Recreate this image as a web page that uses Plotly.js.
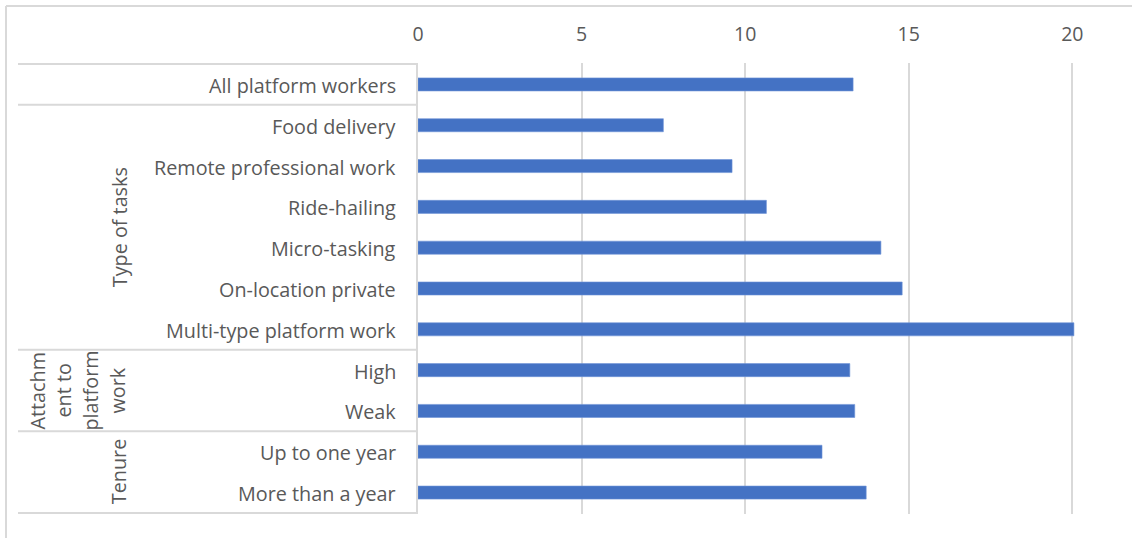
<!DOCTYPE html>
<html>
<head>
<meta charset="utf-8">
<script src="https://cdn.plot.ly/plotly-3.0.1.min.js"></script>
<style>
html,body{margin:0;padding:0;background:#fff;}
#chart{width:1132px;height:538px;}
</style>
</head>
<body>
<div id="chart"></div>
<script>
// Data
const categories = [
  "All platform workers",
  "Food delivery",
  "Remote professional work",
  "Ride-hailing",
  "Micro-tasking",
  "On-location private",
  "Multi-type platform work",
  "High",
  "Weak",
  "Up to one year",
  "More than a year"
];
const values = [13.3, 7.5, 9.6, 10.65, 14.15, 14.8, 20.05, 13.2, 13.35, 12.35, 13.7];
const xTicks = [0, 5, 10, 15, 20];

// Group labels: [text lines, first index, last index]
const groupTypeOfTasks = {lines: ["Type of tasks"], from: 1, to: 6};
const groupAttachment = {lines: ["Attachm", "ent to", "platform", "work"], from: 7, to: 8};
const groupTenure = {lines: ["Tenure"], from: 9, to: 10};
const separators = [-0.5, 0.5, 6.5, 8.5, 10.5];

const textColor = "#595959";
const lineColor = "#d9d9d9";
const fontFamily = "Open Sans, Noto Sans, sans-serif";
const fontSize = 19.8;

// Layout geometry (pixels)
const W = 1132, H = 538;
const mL = 418, mR = 27, mT = 63, mB = 24;
const plotW = W - mL - mR, plotH = H - mT - mB;
const px2paperX = (px) => (px - mL) / plotW;
const px2paperY = (py) => 1 - (py - mT) / plotH;

const annotations = [];
categories.forEach((c, i) => {
  annotations.push({
    text: c, xref: "paper", yref: "y", x: 0, y: i,
    xanchor: "right", yanchor: "middle", xshift: -20, yshift: -1, showarrow: false,
    font: {family: fontFamily, size: fontSize, color: textColor}
  });
});
function addGroup(g, centersPx) {
  g.lines.forEach((t, k) => {
    annotations.push({
      text: t, xref: "paper", yref: "y",
      x: px2paperX(centersPx[k]), y: (g.from + g.to) / 2,
      xanchor: "center", yanchor: "middle", textangle: -90, showarrow: false,
      font: {family: fontFamily, size: fontSize, color: textColor}
    });
  });
}
addGroup(groupTypeOfTasks, [119]);
addGroup(groupAttachment, [38, 64, 91, 118]);
addGroup(groupTenure, [118]);

const shapes = separators.map(s => ({
  type: "line", xref: "paper", yref: "y",
  x0: px2paperX(18), x1: 0, y0: s, y1: s,
  line: {color: lineColor, width: 2}
}));
// outer chart border (top and left)
shapes.push({type: "line", xref: "paper", yref: "paper",
  x0: px2paperX(6), x1: px2paperX(1132), y0: px2paperY(6), y1: px2paperY(6),
  line: {color: lineColor, width: 2}});
shapes.push({type: "line", xref: "paper", yref: "paper",
  x0: px2paperX(6), x1: px2paperX(6), y0: px2paperY(6), y1: px2paperY(538),
  line: {color: lineColor, width: 2}});

const trace = {
  type: "bar", orientation: "h",
  y: categories, x: values,
  width: 0.32,
  marker: {color: "#4472C4", line: {color: "#6f93d6", width: 0.6}},
  hoverinfo: "x+y"
};

const layout = {
  width: W, height: H,
  margin: {l: mL, r: mR, t: mT, b: mB, pad: 0},
  paper_bgcolor: "#fff", plot_bgcolor: "#fff",
  showlegend: false,
  xaxis: {
    side: "top", range: [0, 21], tickvals: xTicks, ticktext: xTicks.map(String),
    showgrid: true, gridcolor: lineColor, gridwidth: 2, zeroline: false,
    showline: false, ticks: "outside", ticklen: 13, tickcolor: "rgba(0,0,0,0)",
    tickfont: {family: fontFamily, size: 19.5, color: textColor},
    fixedrange: true
  },
  yaxis: {
    type: "category", autorange: "reversed", showticklabels: false,
    showgrid: false, zeroline: false, showline: true, linecolor: lineColor, linewidth: 2,
    ticks: "", fixedrange: true
  },
  annotations: annotations,
  shapes: shapes,
  font: {family: fontFamily, color: textColor}
};

Plotly.newPlot("chart", [trace], layout, {displayModeBar: false, staticPlot: true});
</script>
</body>
</html>
